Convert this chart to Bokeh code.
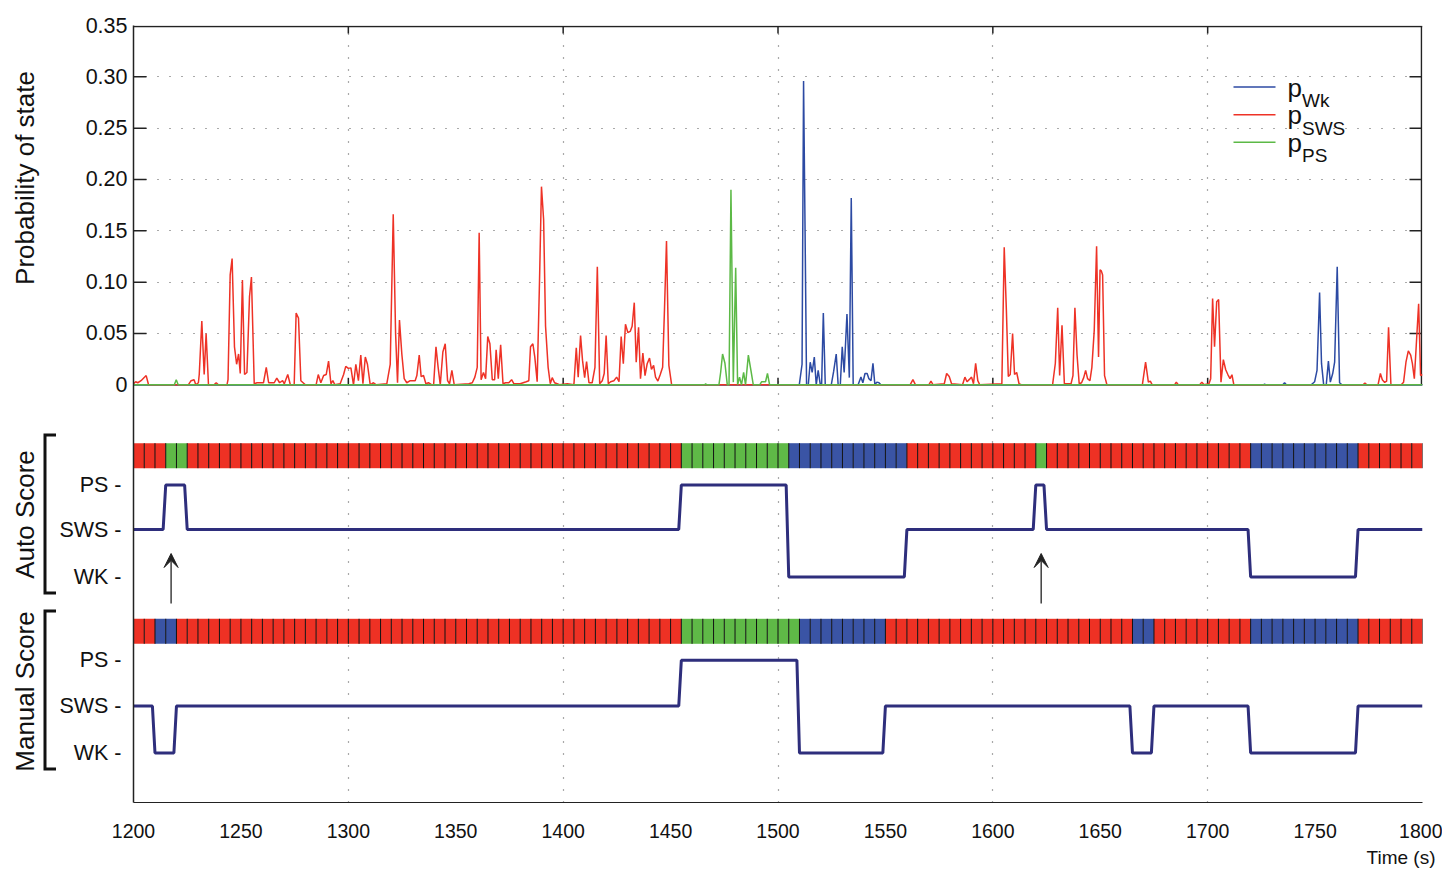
import math
from bokeh.plotting import figure
from bokeh.layouts import row
from bokeh.models import Range1d, FixedTicker, Arrow, VeeHead, Title
from bokeh.core.properties import value
from bokeh.embed import file_html
from bokeh.resources import INLINE

# ---------------- data ----------------
red_t = [1200, 1201, 1202, 1203.5, 1205.9, 1207,
         1225.5, 1226.8, 1228.2, 1229,
         1230.2, 1230.6, 1231.8, 1232.9, 1233.8, 1234.9,
         1237.5, 1238.5, 1239.5,
         1243.5, 1244, 1245, 1245.9, 1247, 1248, 1248.9, 1249.7, 1250.7, 1251.7, 1252.8, 1254, 1254.9, 1256.2, 1257.5,
         1260.5, 1261.8, 1262.9, 1265.5, 1266.7, 1268, 1269.4, 1270.2, 1271.8, 1273,
         1274.8, 1275.7, 1276.8, 1277.9, 1280,
         1285, 1286, 1287.2, 1288.5, 1289.7, 1290.8, 1291.9, 1292.8, 1293.7,
         1296.2, 1297.8, 1298.8, 1300, 1301.2, 1302.4, 1303.5, 1304.7, 1305.8, 1306.8, 1307.9, 1308.9, 1310.2,
         1311.7, 1313,
         1317.9, 1319.5, 1320.9, 1322, 1322.9, 1323.8, 1324.9, 1326, 1327.2, 1328.8, 1331.1, 1331.9, 1333, 1333.9, 1335, 1336.1, 1337.3, 1338.9,
         1339.7, 1340.8, 1341.8, 1342.8, 1344, 1345.1, 1346.2, 1347.1, 1348.2, 1349.3,
         1356.1, 1357.7, 1358.9, 1360, 1360.9, 1361.8, 1362.9, 1363.9, 1364.9, 1365.9, 1367, 1368.1, 1368.8, 1369.8, 1370.9, 1372, 1373.2, 1374.7, 1376, 1377.1, 1380, 1382.8, 1384, 1384.8, 1385.9, 1386.8, 1387.9, 1389, 1389.9, 1390.9, 1391.8, 1393, 1394, 1394.9, 1396, 1397.2, 1398.3,
         1401.9, 1405, 1406.1, 1407, 1408.1, 1409, 1410, 1410.9, 1412, 1413.5, 1414.8, 1415.9, 1417, 1418.2, 1419.1, 1420, 1421, 1422.1, 1423.6, 1424.9, 1426, 1427, 1428, 1429, 1430.1, 1431.2, 1432.1, 1433.1, 1434, 1435.1, 1436, 1437.1, 1438.1, 1439.1, 1440.2, 1441.1, 1442.1, 1443, 1444.1, 1445.2, 1446.3, 1447.2, 1448.1, 1449.2, 1450.5,
         1561.5, 1562.8, 1564, 1570.2, 1571.2, 1572.2, 1577.4, 1578.5, 1579.7, 1580.8, 1585.9, 1587, 1588, 1589.2, 1590.1, 1591, 1592, 1593, 1593.9,
         1604.2, 1605.3, 1606.3, 1607.2, 1608.1, 1609.2, 1610.1, 1611.1, 1612.2, 1613.2,
         1627.8, 1629.1, 1630.2, 1631.1, 1632.2, 1633.3, 1636.4, 1637.3, 1638.2, 1639.2, 1640.2, 1641.3, 1642.3, 1643.2, 1644.1, 1645.2, 1646.1, 1647.2, 1648.3, 1649.2, 1649.9, 1650.5, 1651.1, 1652, 1653.1,
         1669.6, 1671.1, 1672.4, 1673.3, 1674.2,
         1684.6, 1685.4, 1686.3,
         1696.3, 1697.3, 1698.3,
         1700.6, 1701.4, 1702.3, 1703.2, 1704.2, 1705.1, 1706.2, 1707.3, 1708.4, 1709.4, 1710.4, 1711.3, 1712.2,
         1772.3, 1773.2, 1774.1,
         1779.3, 1780.4, 1781.3, 1782.4, 1783.3, 1784.2, 1785.3,
         1790.1, 1791.2, 1792.3, 1793.4, 1794.5, 1795.3, 1796.2, 1797.1, 1798.2, 1799.1, 1800]
red_p = [0.001, 0.003, 0.002, 0.004, 0.009, 0.0,
         0.0, 0.004, 0.005, 0.0,
         0.002, 0.010, 0.062, 0.010, 0.050, 0.0,
         0.0, 0.002, 0.0,
         0.0, 0.005, 0.107, 0.123, 0.037, 0.020, 0.030, 0.011, 0.102, 0.010, 0.012, 0.086, 0.105, 0.001, 0.002,
         0.002, 0.017, 0.002, 0.002, 0.0066, 0.002, 0.004, 0.001, 0.010, 0.0,
         0.0, 0.070, 0.065, 0.004, 0.0,
         0.0, 0.010, 0.002, 0.009, 0.010, 0.023, 0.001, 0.004, 0.0,
         0.001, 0.010, 0.018, 0.016, 0.0165, 0.0, 0.020, 0.004, 0.029, 0.001, 0.027, 0.020, 0.0,
         0.002, 0.0,
         0.001, 0.020, 0.166, 0.050, 0.002, 0.063, 0.030, 0.006, 0.002, 0.004, 0.004, 0.009, 0.029, 0.008, 0.009, 0.001, 0.002, 0.0,
         0.0, 0.037, 0.017, 0.0, 0.032, 0.040, 0.004, 0.001, 0.014, 0.0,
         0.001, 0.002, 0.0075, 0.017, 0.148, 0.005, 0.012, 0.006, 0.047, 0.040, 0.005, 0.005, 0.034, 0.006, 0.039, 0.001, 0.002, 0.002, 0.005, 0.001, 0.001, 0.003, 0.004, 0.037, 0.040, 0.027, 0.003, 0.102, 0.193, 0.161, 0.057, 0.017, 0.001, 0.007, 0.002, 0.001, 0.0,
         0.001, 0.0, 0.036, 0.0075, 0.048, 0.024, 0.007, 0.0225, 0.002, 0.002, 0.017, 0.115, 0.001, 0.004, 0.011, 0.048, 0.001, 0.003, 0.004, 0.0075, 0.003, 0.047, 0.0205, 0.059, 0.051, 0.052, 0.057, 0.080, 0.022, 0.056, 0.006, 0.031, 0.009, 0.0205, 0.026, 0.015, 0.019, 0.0075, 0.0036, 0.010, 0.017, 0.076, 0.140, 0.019, 0.0,
         0.0, 0.005, 0.0, 0.0, 0.0036, 0.0, 0.001, 0.011, 0.008, 0.001, 0.0, 0.0075, 0.003, 0.0055, 0.0075, 0.001, 0.021, 0.004, 0.0,
         0.001, 0.134, 0.073, 0.008, 0.010, 0.050, 0.010, 0.012, 0.001, 0.0,
         0.0, 0.021, 0.075, 0.009, 0.058, 0.001, 0.001, 0.009, 0.075, 0.029, 0.001, 0.002, 0.007, 0.014, 0.006, 0.004, 0.017, 0.053, 0.135, 0.027, 0.112, 0.111, 0.107, 0.009, 0.0,
         0.0, 0.022, 0.0026, 0.0036, 0.0,
         0.0, 0.0026, 0.0,
         0.0, 0.0026, 0.0,
         0.001, 0.006, 0.084, 0.037, 0.081, 0.083, 0.0026, 0.0245, 0.0147, 0.010, 0.006, 0.0098, 0.0,
         0.0, 0.0016, 0.0,
         0.0, 0.011, 0.005, 0.0023, 0.0036, 0.056, 0.0,
         0.0, 0.0026, 0.022, 0.033, 0.029, 0.0206, 0.006, 0.0386, 0.079, 0.009, 0.010]

blue_t = [1200, 1509.9, 1511.2, 1511.9, 1512.6, 1513.3, 1514.1, 1515, 1515.9, 1516.9, 1517.8, 1518.7, 1519.7, 1520.3,
          1521.1, 1522, 1524.8, 1525.9, 1527.1, 1528, 1529, 1529.9, 1530.8, 1532.1, 1533.2, 1534.1, 1535, 1537.3,
          1538.6, 1539.5, 1540.5, 1541.5, 1542.3, 1543.3, 1544.2, 1545.1, 1546, 1547, 1547.9,
          1726, 1726.5, 1727, 1735, 1735.8, 1736.6,
          1748.2, 1749.8, 1750.9, 1752.1, 1753, 1754, 1755.2, 1756.2, 1757.1, 1758.2, 1759.1, 1760.3, 1761.4, 1762.5, 1800]
blue_p = [0.0, 0.0, 0.02, 0.296, 0.15, 0.0, 0.0, 0.022, 0.012, 0.027, 0.0, 0.014, 0.0, 0.0,
          0.070, 0.0, 0.0, 0.013, 0.030, 0.0, 0.0, 0.037, 0.012, 0.069, 0.007, 0.182, 0.0, 0.0,
          0.0075, 0.002, 0.011, 0.011, 0.006, 0.004, 0.021, 0.0, 0.0026, 0.002, 0.0,
          0.0, 0.0008, 0.0, 0.0, 0.002, 0.0,
          0.0, 0.003, 0.014, 0.090, 0.0206, 0.0, 0.0, 0.023, 0.0026, 0.011, 0.022, 0.115, 0.002, 0.0, 0.0]

green_t = [1200, 1219, 1219.9, 1220.8, 1466, 1466.3, 1466.8, 1472.5, 1473.3, 1474.2, 1475.3, 1476.4, 1477.2,
           1478.1, 1479.2, 1480.3, 1481.2, 1482.1, 1483, 1484, 1484.9, 1486.2, 1487.4, 1488.5, 1491.5,
           1492.4, 1494.2, 1495.1, 1496.1, 1800]
green_p = [0.0, 0.0, 0.005, 0.0, 0.0, 0.001, 0.0, 0.0, 0.012, 0.030, 0.021, 0.0, 0.0,
           0.190, 0.0026, 0.114, 0.0, 0.0075, 0.0, 0.012, 0.0, 0.029, 0.014, 0.0, 0.0,
           0.003, 0.003, 0.011, 0.0, 0.0]

# sleep scoring, 5-s epochs, run-length form (start times and states)
EPOCH = 5
auto_start = [1200, 1215, 1225, 1455, 1505, 1560, 1620, 1625, 1720, 1770]
auto_state = ["SWS", "PS", "SWS", "PS", "WK", "SWS", "PS", "SWS", "WK", "SWS"]
manual_start = [1200, 1210, 1220, 1455, 1510, 1550, 1665, 1675, 1720, 1770]
manual_state = ["SWS", "WK", "SWS", "PS", "WK", "SWS", "WK", "SWS", "WK", "SWS"]
arrow_t = [1217.5, 1622.5]

x_ticks = list(range(1200, 1801, 50))
grid_x = [1300, 1400, 1500, 1600, 1700]
prob_ticks = [0, 0.05, 0.10, 0.15, 0.20, 0.25, 0.30, 0.35]
prob_labels = ["0", "0.05", "0.10", "0.15", "0.20", "0.25", "0.30", "0.35"]
state_names = ["PS", "SWS", "WK"]
legend_main = ["p", "p", "p"]
legend_sub = ["Wk", "SWS", "PS"]
side_titles = ["Probability of state", "Auto Score", "Manual Score"]

# ---------------- layout constants (canvas pixels) ----------------
W, H = 1442, 874
LW = 56                       # width of the left strip with brackets and side titles
FL, FR, FT, FB = 133, 1422, 25, 802
X0, X1 = 1200, 1800
Y1 = 0.35
ZERO_PX = 384.3
Y0 = -(FB - ZERO_PX) / (ZERO_PX - FT) * Y1


def sx(px):
    return X0 + (px - FL) * (X1 - X0) / (FR - FL)


def sy(py):
    return Y1 - (py - FT) * (Y1 - Y0) / (FB - FT)


FONT = "Liberation Sans"
C_BLUE, C_RED, C_GREEN = "#2c4aa3", "#ee3226", "#5cb946"
BAR_COL = {"SWS": "#ee3124", "PS": "#5fb947", "WK": "#3a54a5"}
TRACE_COL = "#2e2e7c"
AX_COL = "#222222"
TXT_COL = "#111111"
NBSP = "\u00a0"

lanes = [
    (auto_start, auto_state, 442.7, 467.7, [484.5, 529.0, 576.5]),
    (manual_start, manual_state, 618.3, 643.3, [659.8, 705.5, 752.5]),
]

# ---------------- main figure ----------------
p = figure(width=W - LW, height=H, x_range=Range1d(X0, X1), y_range=Range1d(Y0, Y1),
           output_backend="svg", toolbar_location=None, title=None,
           min_border_left=FL - LW, min_border_right=W - FR, min_border_top=FT, min_border_bottom=H - FB)
p.outline_line_color = None
p.background_fill_color = "white"
p.border_fill_color = "white"

# left axis: probability ticks plus the state levels of both scoring lanes
y_ticks = list(prob_ticks)
y_over = {t: s for t, s in zip(prob_ticks, prob_labels)}
for starts, states, btop, bbot, rows in lanes:
    for name, r in zip(state_names, rows):
        t = sy(r)
        y_ticks.append(t)
        y_over[t] = name + " -" + NBSP
p.yaxis.ticker = FixedTicker(ticks=y_ticks)
p.yaxis.major_label_overrides = y_over
p.yaxis.major_tick_in = 0
p.yaxis.major_tick_out = 0
p.yaxis.minor_tick_line_color = None
p.yaxis.major_label_standoff = 6
p.yaxis.major_label_text_font = FONT
p.yaxis.major_label_text_font_size = "21.5px"
p.yaxis.major_label_text_color = TXT_COL
p.yaxis.axis_line_color = AX_COL
p.yaxis.axis_line_width = 1.5

p.xaxis.ticker = FixedTicker(ticks=x_ticks)
p.xaxis.major_tick_in = 0
p.xaxis.major_tick_out = 0
p.xaxis.minor_tick_line_color = None
p.xaxis.major_label_standoff = 21
p.xaxis.major_label_text_font = FONT
p.xaxis.major_label_text_font_size = "19.5px"
p.xaxis.major_label_text_color = TXT_COL
p.xaxis.axis_line_color = AX_COL
p.xaxis.axis_line_width = 1.2

p.add_layout(Title(text="Time (s)", align="right", offset=-13, text_font=FONT, text_font_size="19px",
                   text_font_style="normal", text_color=TXT_COL, standoff=8), "below")

# grids
p.xgrid.ticker = FixedTicker(ticks=grid_x)
p.ygrid.ticker = FixedTicker(ticks=prob_ticks[1:-1])
for g in (p.xgrid, p.ygrid):
    g.grid_line_color = "#555555"
    g.grid_line_dash = "1 11"
    g.grid_line_width = 1.2

# top panel box and ticks
inner = prob_ticks[1:-1]
n = len(inner)
p.line([X0, X1], [sy(FT + 1), sy(FT + 1)], line_color=AX_COL, line_width=1.5)
p.line([sx(FR - 1), sx(FR - 1)], [0, sy(FT + 1)], line_color=AX_COL, line_width=1.5)
p.line([X0, X1], [0, 0], line_color=AX_COL, line_width=1.5)
p.segment(x0=[X0] * n, x1=[sx(FL + 13)] * n, y0=inner, y1=inner, line_color=AX_COL, line_width=1.5)
p.segment(x0=[sx(FR - 13)] * n, x1=[sx(FR - 1)] * n, y0=inner, y1=inner, line_color=AX_COL, line_width=1.5)
m = len(grid_x)
p.segment(x0=grid_x, x1=grid_x, y0=[0] * m, y1=[sy(ZERO_PX - 7)] * m, line_color=AX_COL, line_width=1.5)
p.segment(x0=grid_x, x1=grid_x, y0=[sy(FT + 1)] * m, y1=[sy(FT + 8)] * m, line_color=AX_COL, line_width=1.5)

# probability traces
p.line(blue_t, blue_p, line_color=C_BLUE, line_width=1.5)
p.line(red_t, red_p, line_color=C_RED, line_width=1.5)
p.line(green_t, green_p, line_color=C_GREEN, line_width=1.5)

# legend (drawn by hand to allow subscripts)
leg_rows = [86.5, 114.3, 141.7]
leg_cols = [C_BLUE, C_RED, C_GREEN]
for r, col in zip(leg_rows, leg_cols):
    p.line([sx(1233), sx(1275)], [sy(r), sy(r)], line_color=col, line_width=1.5)
p.text(x=[sx(1287)] * 3, y=[sy(r + 0.5) for r in leg_rows], text=legend_main,
       text_font=value(FONT), text_font_size="26px", text_baseline="alphabetic", text_color=TXT_COL)
p.text(x=[sx(1301.5)] * 3, y=[sy(r + 13.5) for r in leg_rows], text=legend_sub,
       text_font=value(FONT), text_font_size="19px", text_baseline="alphabetic", text_color=TXT_COL)


# scoring lanes
def expand(starts, states, end):
    out = []
    for i, st in enumerate(states):
        e = starts[i + 1] if i + 1 < len(starts) else end
        for t in range(starts[i], e, EPOCH):
            out.append((t, st))
    return out


def trace(starts, states, end, levels):
    xs, ys = [X0], [levels[states[0]]]
    for i in range(1, len(starts)):
        b = starts[i]
        xs += [b - 1.2, b]
        ys += [levels[states[i - 1]], levels[states[i]]]
    xs.append(end)
    ys.append(levels[states[-1]])
    return xs, ys


for starts, states, btop, bbot, rows in lanes:
    ep = expand(starts, states, X1)
    p.quad(left=[t for t, _ in ep], right=[t + EPOCH for t, _ in ep],
           bottom=[sy(bbot)] * len(ep), top=[sy(btop)] * len(ep),
           fill_color=[BAR_COL[s] for _, s in ep], line_color=None)
    bnd = [t for t, _ in ep][1:] + [X1]
    p.segment(x0=bnd, x1=bnd, y0=[sy(bbot)] * len(bnd), y1=[sy(btop)] * len(bnd),
              line_color=TXT_COL, line_width=1)
    levels = {k: sy(v) for k, v in zip(state_names, rows)}
    xs, ys = trace(starts, states, X1, levels)
    p.line(xs, ys, line_color=TRACE_COL, line_width=3)

for t in arrow_t:
    p.add_layout(Arrow(end=VeeHead(size=14, fill_color="#222222", line_color="#222222"),
                       x_start=t, y_start=sy(603), x_end=t, y_end=sy(553),
                       line_color="#222222", line_width=1.3))

# ---------------- left strip: brackets and side titles ----------------
# same vertical frame as the main figure (the row layout aligns the frames)
lf = figure(width=LW, height=H, x_range=Range1d(0, LW), y_range=Range1d(Y0, Y1),
            output_backend="svg", toolbar_location=None, title=None,
            x_axis_location=None, y_axis_location=None,
            min_border_left=0, min_border_right=0, min_border_top=FT, min_border_bottom=H - FB)
lf.outline_line_color = None
lf.xgrid.visible = False
lf.ygrid.visible = False
lf.background_fill_color = "white"
lf.border_fill_color = "white"

for top, bot in [(434.5, 592.5), (610.5, 768.5)]:
    lf.line([LW, 44.5, 44.5, LW], [sy(top), sy(top), sy(bot), sy(bot)],
            line_color=TXT_COL, line_width=3, line_join="miter")

lf.text(x=[24, 24, 24], y=[sy(177.5), sy(514), sy(691)], text=side_titles, angle=math.pi / 2,
        text_font=value(FONT), text_font_size="26px", text_align="center", text_baseline="middle",
        text_color=TXT_COL)

layout = row(lf, p)
open("out.html", "w").write(file_html(layout, INLINE))
